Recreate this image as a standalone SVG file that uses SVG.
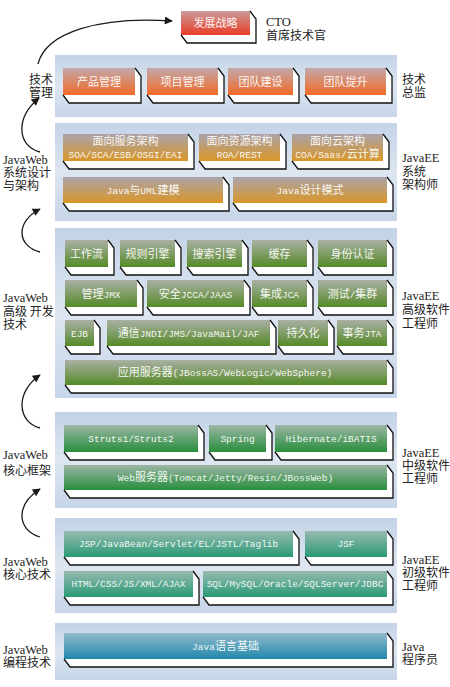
<svg xmlns="http://www.w3.org/2000/svg" width="450" height="687" viewBox="0 0 450 687">
<defs>
<linearGradient id="gP" x1="0" y1="0" x2="0" y2="1"><stop offset="0" stop-color="#c3d3e6"/><stop offset="0.5" stop-color="#dde6f1"/><stop offset="1" stop-color="#c6d5e8"/></linearGradient>
<linearGradient id="gR" x1="0" y1="0" x2="0" y2="1"><stop offset="0" stop-color="#c99c9a"/><stop offset="1" stop-color="#ea3c26"/></linearGradient>
<linearGradient id="gO" x1="0" y1="0" x2="0" y2="1"><stop offset="0" stop-color="#c2a8aa"/><stop offset="1" stop-color="#f26a26"/></linearGradient>
<linearGradient id="gG" x1="0" y1="0" x2="0" y2="1"><stop offset="0" stop-color="#aaa3aa"/><stop offset="1" stop-color="#d99628"/></linearGradient>
<linearGradient id="gV" x1="0" y1="0" x2="0" y2="1"><stop offset="0" stop-color="#aab0a4"/><stop offset="1" stop-color="#548a26"/></linearGradient>
<linearGradient id="gN" x1="0" y1="0" x2="0" y2="1"><stop offset="0" stop-color="#9cb6a6"/><stop offset="1" stop-color="#288e3c"/></linearGradient>
<linearGradient id="gT" x1="0" y1="0" x2="0" y2="1"><stop offset="0" stop-color="#98bab0"/><stop offset="1" stop-color="#289a76"/></linearGradient>
<linearGradient id="gB" x1="0" y1="0" x2="0" y2="1"><stop offset="0" stop-color="#94bacb"/><stop offset="1" stop-color="#2088ab"/></linearGradient>
<marker id="ah" viewBox="0 0 10 10" refX="9" refY="5" markerWidth="9" markerHeight="8" markerUnits="userSpaceOnUse" orient="auto"><path d="M0,0L10,5L0,10Z" fill="#1a1a1a"/></marker>
</defs>
<style>
.pn{fill:url(#gP)}
.sil{fill:#ffffff}
.edge{fill:none;stroke:#111;stroke-width:1.3;stroke-linejoin:miter}
.t{font-family:"Liberation Mono","Noto Sans CJK SC",monospace;font-size:9.5px;fill:#ffffff;fill-opacity:0.93;text-anchor:middle}
.k{font-family:"Noto Sans CJK SC",sans-serif;font-size:11px}
.lb{font-family:"Noto Sans CJK SC",sans-serif;font-size:12px;fill:#222}
.l{font-family:"Liberation Serif","Noto Sans CJK SC",serif;font-size:12.5px}
.arr{fill:none;stroke:#1a1a1a;stroke-width:1.3;marker-end:url(#ah)}
</style>
<rect width="450" height="687" fill="#ffffff"/>

<g id="panels">
<rect class="pn" x="55" y="55" width="342" height="62"/>
<rect class="pn" x="55" y="123" width="342" height="98"/>
<rect class="pn" x="55" y="228" width="342" height="170"/>
<rect class="pn" x="55" y="412" width="342" height="96"/>
<rect class="pn" x="55" y="518" width="342" height="95"/>
<rect class="pn" x="55" y="623" width="342" height="57"/>
</g>

<g id="connectors">
<path class="arr" d="M38,64 C46,32 100,16 172,21"/>
<path class="arr" d="M40,152 C17,146 15,118 39,98"/>
<path class="arr" d="M40,252 C17,246 15,222 40,209"/>
<path class="arr" d="M40,428 C17,422 15,392 40,375"/>
<path class="arr" d="M40,537 C17,530 15,505 40,489"/>
</g>

<!-- CTO -->
<g id="n-cto">
<path class="sil" d="M181,11H250l6,8V43H187L181,35Z"/>
<rect x="181" y="11" width="69" height="24" fill="url(#gR)"/>
<path class="edge" d="M250,11l6,8V43H187L181,35"/>
<text class="t k" x="215.5" y="27">发展战略</text>
</g>

<!-- management -->
<g id="n-pm">
<path class="sil" d="M63,68H135l6,8V103H69L63,95Z"/><rect x="63" y="68" width="72" height="27" fill="url(#gO)"/><path class="edge" d="M135,68l6,8V103H69L63,95"/>
<text class="t k" x="99" y="85.5">产品管理</text></g>
<g id="n-prj">
<path class="sil" d="M147,68H218l6,8V103H153L147,95Z"/><rect x="147" y="68" width="71" height="27" fill="url(#gO)"/><path class="edge" d="M218,68l6,8V103H153L147,95"/>
<text class="t k" x="182.5" y="85.5">项目管理</text></g>
<g id="n-team">
<path class="sil" d="M228,68H293l6,8V103H234L228,95Z"/><rect x="228" y="68" width="65" height="27" fill="url(#gO)"/><path class="edge" d="M293,68l6,8V103H234L228,95"/>
<text class="t k" x="260.5" y="85.5">团队建设</text></g>
<g id="n-teamup">
<path class="sil" d="M305,68H386l6,8V103H311L305,95Z"/><rect x="305" y="68" width="81" height="27" fill="url(#gO)"/><path class="edge" d="M386,68l6,8V103H311L305,95"/>
<text class="t k" x="345.5" y="85.5">团队提升</text></g>

<!-- architecture -->
<g id="n-soa">
<path class="sil" d="M63,134H188l6,8V169H69L63,161Z"/><rect x="63" y="134" width="125" height="27" fill="url(#gG)"/><path class="edge" d="M188,134l6,8V169H69L63,161"/>
<text class="t" x="125.5" y="145"><tspan class="k">面向服务架构</tspan><tspan x="125.5" dy="12.5">SOA/SCA/ESB/OSGI/EAI</tspan></text></g>
<g id="n-roa">
<path class="sil" d="M199,134H280l6,8V169H205L199,161Z"/><rect x="199" y="134" width="81" height="27" fill="url(#gG)"/><path class="edge" d="M280,134l6,8V169H205L199,161"/>
<text class="t" x="239.5" y="145"><tspan class="k">面向资源架构</tspan><tspan x="239.5" dy="12.5">ROA/REST</tspan></text></g>
<g id="n-coa">
<path class="sil" d="M292,134H383l6,8V169H298L292,161Z"/><rect x="292" y="134" width="91" height="27" fill="url(#gG)"/><path class="edge" d="M383,134l6,8V169H298L292,161"/>
<text class="t" x="337.5" y="145"><tspan class="k">面向云架构</tspan><tspan x="337.5" dy="12.5">COA/Saas/</tspan><tspan class="k">云计算</tspan></text></g>
<g id="n-uml">
<path class="sil" d="M63,177H223l6,8V211H69L63,203Z"/><rect x="63" y="177" width="160" height="26" fill="url(#gG)"/><path class="edge" d="M223,177l6,8V211H69L63,203"/>
<text class="t" x="143" y="194">Java<tspan class="k">与</tspan>UML<tspan class="k">建模</tspan></text></g>
<g id="n-dp">
<path class="sil" d="M233,177H387l6,8V211H239L233,203Z"/><rect x="233" y="177" width="154" height="26" fill="url(#gG)"/><path class="edge" d="M387,177l6,8V211H239L233,203"/>
<text class="t" x="310" y="194">Java<tspan class="k">设计模式</tspan></text></g>

<!-- advanced row 1 -->
<g id="n-wf">
<path class="sil" d="M65,240H108l6,8V275H71L65,267Z"/><rect x="65" y="240" width="43" height="27" fill="url(#gV)"/><path class="edge" d="M108,240l6,8V275H71L65,267"/>
<text class="t k" x="86.5" y="257.5">工作流</text></g>
<g id="n-rule">
<path class="sil" d="M120,240H175l6,8V275H126L120,267Z"/><rect x="120" y="240" width="55" height="27" fill="url(#gV)"/><path class="edge" d="M175,240l6,8V275H126L120,267"/>
<text class="t k" x="147.5" y="257.5">规则引擎</text></g>
<g id="n-search">
<path class="sil" d="M187,240H242l6,8V275H193L187,267Z"/><rect x="187" y="240" width="55" height="27" fill="url(#gV)"/><path class="edge" d="M242,240l6,8V275H193L187,267"/>
<text class="t k" x="214.5" y="257.5">搜索引擎</text></g>
<g id="n-cache">
<path class="sil" d="M252,240H307l6,8V275H258L252,267Z"/><rect x="252" y="240" width="55" height="27" fill="url(#gV)"/><path class="edge" d="M307,240l6,8V275H258L252,267"/>
<text class="t k" x="279.5" y="257.5">缓存</text></g>
<g id="n-auth">
<path class="sil" d="M318,240H387l6,8V275H324L318,267Z"/><rect x="318" y="240" width="69" height="27" fill="url(#gV)"/><path class="edge" d="M387,240l6,8V275H324L318,267"/>
<text class="t k" x="352.5" y="257.5">身份认证</text></g>

<!-- advanced row 2 -->
<g id="n-jmx">
<path class="sil" d="M65,280H137l6,8V315H71L65,307Z"/><rect x="65" y="280" width="72" height="27" fill="url(#gV)"/><path class="edge" d="M137,280l6,8V315H71L65,307"/>
<text class="t" x="101" y="297.5"><tspan class="k">管理</tspan>JMX</text></g>
<g id="n-sec">
<path class="sil" d="M147,280H244l6,8V315H153L147,307Z"/><rect x="147" y="280" width="97" height="27" fill="url(#gV)"/><path class="edge" d="M244,280l6,8V315H153L147,307"/>
<text class="t" x="195.5" y="297.5"><tspan class="k">安全</tspan>JCCA/JAAS</text></g>
<g id="n-jca">
<path class="sil" d="M252,280H307l6,8V315H258L252,307Z"/><rect x="252" y="280" width="55" height="27" fill="url(#gV)"/><path class="edge" d="M307,280l6,8V315H258L252,307"/>
<text class="t" x="279.5" y="297.5"><tspan class="k">集成</tspan>JCA</text></g>
<g id="n-test">
<path class="sil" d="M318,280H387l6,8V315H324L318,307Z"/><rect x="318" y="280" width="69" height="27" fill="url(#gV)"/><path class="edge" d="M387,280l6,8V315H324L318,307"/>
<text class="t" x="352.5" y="297.5"><tspan class="k">测试</tspan>/<tspan class="k">集群</tspan></text></g>

<!-- advanced row 3 -->
<g id="n-ejb">
<path class="sil" d="M65,320H94l6,8V354H71L65,346Z"/><rect x="65" y="320" width="29" height="26" fill="url(#gV)"/><path class="edge" d="M94,320l6,8V354H71L65,346"/>
<text class="t" x="79.5" y="336.5">EJB</text></g>
<g id="n-jndi">
<path class="sil" d="M107,320H270l6,8V354H113L107,346Z"/><rect x="107" y="320" width="163" height="26" fill="url(#gV)"/><path class="edge" d="M270,320l6,8V354H113L107,346"/>
<text class="t" x="188.5" y="336.5"><tspan class="k">通信</tspan>JNDI/JMS/JavaMail/JAF</text></g>
<g id="n-persist">
<path class="sil" d="M278,320H328l6,8V354H284L278,346Z"/><rect x="278" y="320" width="50" height="26" fill="url(#gV)"/><path class="edge" d="M328,320l6,8V354H284L278,346"/>
<text class="t k" x="303" y="336.5">持久化</text></g>
<g id="n-jta">
<path class="sil" d="M337,320H387l6,8V354H343L337,346Z"/><rect x="337" y="320" width="50" height="26" fill="url(#gV)"/><path class="edge" d="M387,320l6,8V354H343L337,346"/>
<text class="t" x="362" y="336.5"><tspan class="k">事务</tspan>JTA</text></g>

<!-- advanced row 4 -->
<g id="n-appserver">
<path class="sil" d="M65,360H387l6,8V393H71L65,385Z"/><rect x="65" y="360" width="322" height="25" fill="url(#gV)"/><path class="edge" d="M387,360l6,8V393H71L65,385"/>
<text class="t" x="225" y="376"><tspan class="k">应用服务器</tspan>(JBossAS/WebLogic/WebSphere)</text></g>

<!-- middle -->
<g id="n-struts">
<path class="sil" d="M64,425H198l6,8V460H70L64,452Z"/><rect x="64" y="425" width="134" height="27" fill="url(#gN)"/><path class="edge" d="M198,425l6,8V460H70L64,452"/>
<text class="t" x="131" y="442">Struts1/Struts2</text></g>
<g id="n-spring">
<path class="sil" d="M209,425H266l6,8V460H215L209,452Z"/><rect x="209" y="425" width="57" height="27" fill="url(#gN)"/><path class="edge" d="M266,425l6,8V460H215L209,452"/>
<text class="t" x="237.5" y="442">Spring</text></g>
<g id="n-hib">
<path class="sil" d="M275,425H387l6,8V460H281L275,452Z"/><rect x="275" y="425" width="112" height="27" fill="url(#gN)"/><path class="edge" d="M387,425l6,8V460H281L275,452"/>
<text class="t" x="331" y="442">Hibernate/iBATIS</text></g>
<g id="n-web">
<path class="sil" d="M64,465H387l6,8V498H70L64,490Z"/><rect x="64" y="465" width="323" height="25" fill="url(#gN)"/><path class="edge" d="M387,465l6,8V498H70L64,490"/>
<text class="t" x="225.5" y="481">Web<tspan class="k">服务器</tspan>(Tomcat/Jetty/Resin/JBossWeb)</text></g>

<!-- junior -->
<g id="n-jsp">
<path class="sil" d="M64,531H293l6,8V565H70L64,557Z"/><rect x="64" y="531" width="229" height="26" fill="url(#gT)"/><path class="edge" d="M293,531l6,8V565H70L64,557"/>
<text class="t" x="178.5" y="547">JSP/JavaBean/Servlet/EL/JSTL/Taglib</text></g>
<g id="n-jsf">
<path class="sil" d="M305,531H387l6,8V565H311L305,557Z"/><rect x="305" y="531" width="82" height="26" fill="url(#gT)"/><path class="edge" d="M387,531l6,8V565H311L305,557"/>
<text class="t" x="346" y="547">JSF</text></g>
<g id="n-html">
<path class="sil" d="M64,571H193l6,8V605H70L64,597Z"/><rect x="64" y="571" width="129" height="26" fill="url(#gT)"/><path class="edge" d="M193,571l6,8V605H70L64,597"/>
<text class="t" x="128.5" y="587">HTML/CSS/JS/XML/AJAX</text></g>
<g id="n-sql">
<path class="sil" d="M203,571H387l6,8V605H209L203,597Z"/><rect x="203" y="571" width="184" height="26" fill="url(#gT)"/><path class="edge" d="M387,571l6,8V605H209L203,597"/>
<text class="t" x="295" y="587">SQL/MySQL/Oracle/SQLServer/JDBC</text></g>

<!-- programmer -->
<g id="n-java">
<path class="sil" d="M64,633H387l6,8V667H70L64,659Z"/><rect x="64" y="633" width="323" height="26" fill="url(#gB)"/><path class="edge" d="M387,633l6,8V667H70L64,659"/>
<text class="t" x="225.5" y="649.5">Java<tspan class="k">语言基础</tspan></text></g>

<!-- labels -->
<g id="labels">
<text class="lb" x="266" y="26"><tspan class="l">CTO</tspan><tspan x="266" dy="14">首席技术官</tspan></text>
<text class="lb" x="29" y="84">技术<tspan x="29" dy="13">管理</tspan></text>
<text class="lb" x="402" y="84">技术<tspan x="402" dy="13">总监</tspan></text>

<text class="lb" x="3" y="164"><tspan class="l">JavaWeb</tspan><tspan x="3" dy="13">系统设计</tspan><tspan x="3" dy="13">与架构</tspan></text>
<text class="lb" x="402" y="162"><tspan class="l">JavaEE</tspan><tspan x="402" dy="14">系统</tspan><tspan x="402" dy="13">架构师</tspan></text>

<text class="lb" x="3" y="302"><tspan class="l">JavaWeb</tspan><tspan x="3" dy="14">高级 开发</tspan><tspan x="3" dy="13">技术</tspan></text>
<text class="lb" x="402" y="300"><tspan class="l">JavaEE</tspan><tspan x="402" dy="14">高级软件</tspan><tspan x="402" dy="14">工程师</tspan></text>

<text class="lb" x="3" y="459"><tspan class="l">JavaWeb</tspan><tspan x="3" dy="16">核心框架</tspan></text>
<text class="lb" x="402" y="457"><tspan class="l">JavaEE</tspan><tspan x="402" dy="13">中级软件</tspan><tspan x="402" dy="13">工程师</tspan></text>

<text class="lb" x="3" y="566"><tspan class="l">JavaWeb</tspan><tspan x="3" dy="13">核心技术</tspan></text>
<text class="lb" x="402" y="564"><tspan class="l">JavaEE</tspan><tspan x="402" dy="13">初级软件</tspan><tspan x="402" dy="13">工程师</tspan></text>

<text class="lb" x="3" y="654"><tspan class="l">JavaWeb</tspan><tspan x="3" dy="13">编程技术</tspan></text>
<text class="lb" x="402" y="651"><tspan class="l">Java</tspan><tspan x="402" dy="13">程序员</tspan></text>
</g>
</svg>
